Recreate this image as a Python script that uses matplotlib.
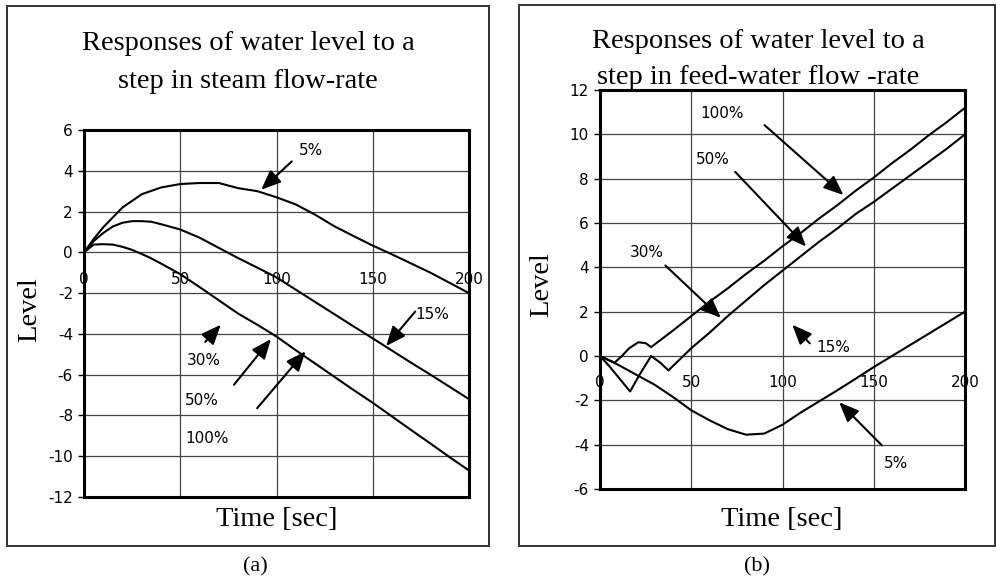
import matplotlib
matplotlib.use("Agg")
import matplotlib.pyplot as plt
from matplotlib.patches import Rectangle

# ---- panel (a): step in steam flow-rate ----
t_a5 = [0, 5, 10, 20, 30, 40, 50, 60, 70, 80, 90, 100, 110, 120, 130, 140, 150, 160, 170, 180, 190, 200]
lvl_a5 = [0, 0.65, 1.23, 2.2, 2.85, 3.18, 3.35, 3.4, 3.4, 3.15, 3.0, 2.7, 2.35, 1.85, 1.28, 0.8, 0.33,
          -0.1, -0.55, -1.0, -1.5, -2.0]
t_a15 = [0, 5, 10, 15, 20, 25, 30, 35, 40, 50, 60, 70, 80, 90, 100, 110, 120, 130, 140, 150, 160, 170, 180, 190, 200]
lvl_a15 = [0, 0.55, 0.95, 1.27, 1.45, 1.53, 1.53, 1.5, 1.38, 1.12, 0.72, 0.22, -0.28, -0.75, -1.23,
           -1.83, -2.43, -3.03, -3.63, -4.22, -4.82, -5.42, -6.0, -6.6, -7.2]
t_a30 = t_a15
lvl_a30 = [0, 0.38, 0.4, 0.38, 0.27, 0.12, -0.08, -0.3, -0.55, -1.07, -1.7, -2.35, -3.0, -3.55, -4.13,
           -4.8, -5.45, -6.1, -6.75, -7.38, -8.05, -8.72, -9.38, -10.05, -10.7]

# labels: (text, text_t, text_v, tail_t, tail_v, tip_t, tip_v)
notes_a = [("5%", 118, 5.0, 109, 4.55, 91, 2.98),
           ("15%", 181, -3.05, 173, -2.8, 156, -4.7),
           ("30%", 62, -5.3, 62, -4.5, 72, -3.45),
           ("50%", 61, -7.25, 77, -6.6, 98, -4.15),
           ("100%", 64, -9.15, 89, -7.75, 116, -4.75)]

# ---- panel (b): step in feed-water flow-rate ----
t_b5 = [0, 10, 20, 30, 40, 50, 60, 70, 80, 90, 100, 110, 120, 130, 140, 150, 160, 170, 180, 190, 200]
lvl_b5 = [0, -0.4, -0.85, -1.3, -1.85, -2.45, -2.9, -3.3, -3.55, -3.5, -3.1, -2.55, -2.05, -1.55,
          -1.03, -0.5, 0.0, 0.5, 1.0, 1.5, 2.0]
t_b100 = [0, 8, 12, 16, 21, 25, 28, 40, 50, 60, 70, 80, 90, 100, 110, 120, 130, 140, 150, 160, 170, 180, 190, 200]
lvl_b100 = [0, -0.3, 0, 0.35, 0.62, 0.58, 0.4, 1.15, 1.8, 2.45, 3.05, 3.7, 4.3, 4.95, 5.55, 6.2, 6.8,
            7.45, 8.05, 8.7, 9.3, 9.95, 10.55, 11.2]
t_b50 = [0, 5, 10, 16.5, 22, 28, 33, 37.5, 45, 50, 60, 70, 80, 90, 100, 110, 120, 130, 140, 150, 160, 170, 180, 190, 200]
lvl_b50 = [0, -0.45, -0.95, -1.6, -0.8, 0.0, -0.3, -0.65, -0.05, 0.35, 1.05, 1.8, 2.5, 3.2, 3.85, 4.5,
           5.15, 5.75, 6.4, 6.95, 7.55, 8.15, 8.75, 9.35, 10.0]

notes_b = [("100%", 67, 10.95, 89, 10.5, 134.5, 7.18),
           ("50%", 62, 8.87, 73, 8.4, 114, 4.85),
           ("30%", 25.6, 4.67, 34.7, 4.17, 67.3, 1.64),
           ("15%", 128, 0.4, 116, 0.48, 104.3, 1.5),
           ("5%", 162, -4.87, 155.5, -4.12, 130, -2.0)]

xticks = [0, 50, 100, 150, 200]
yticks_a = [6, 4, 2, 0, -2, -4, -6, -8, -10, -12]
yticks_b = [12, 10, 8, 6, 4, 2, 0, -2, -4, -6]

serif = "Liberation Serif"
small = ["Liberation Sans Narrow", "DejaVu Sans"]

fig = plt.figure(figsize=(9.96, 5.83), dpi=100)
W, H = 996, 583


def box(x0, y0, x1, y1):
    # pixel coords from top-left
    fig.patches.append(Rectangle((x0 / W, 1 - y1 / H), (x1 - x0) / W, (y1 - y0) / H,
                                 transform=fig.transFigure, fill=False, lw=1.4, ec="#333333"))


def label(x, y, s, **kw):
    fig.text(x / W, 1 - y / H, s, family=serif, ha="center", va="center", **kw)


def panel(rect, curves, notes, yticks, ylim):
    ax = fig.add_axes(rect)
    for t, v in curves:
        ax.plot(t, v, color="black", lw=1.5)
    ax.set_xlim(0, 200)
    ax.set_ylim(*ylim)
    ax.set_yticks(yticks)
    ax.set_yticklabels([str(y) for y in yticks], family=small, fontsize=11)
    ax.set_xticks([50, 100, 150])
    ax.tick_params(axis="x", length=0, labelbottom=False)
    ax.tick_params(axis="y", length=4, width=1, pad=4)
    ax.grid(True, color="#444444", lw=0.9)
    ax.set_axisbelow(True)
    for s in ax.spines.values():
        s.set_linewidth(2.2)
    # x labels sit just under the zero line (axis crossing)
    sec = ax.secondary_xaxis((0 - ylim[0]) / (ylim[1] - ylim[0]))
    sec.xaxis.set_ticks_position("bottom")
    sec.set_xticks(xticks)
    sec.set_xticklabels([str(x) for x in xticks], family=small, fontsize=11)
    sec.tick_params(length=0, pad=14)
    for s in sec.spines.values():
        s.set_visible(False)
    for lab, tx, ty, x0, y0, x1, y1 in notes:
        ax.text(tx, ty, lab, family=small, fontsize=11, ha="center", va="center")
        ax.annotate("", xy=(x1, y1), xytext=(x0, y0),
                    arrowprops=dict(arrowstyle="-|>,head_length=0.6,head_width=0.25",
                                    color="black", lw=1.5, mutation_scale=20))
    return ax


box(7, 6, 489, 546)
box(519, 5, 995, 546)

panel([84 / W, 1 - 497 / H, 385 / W, 367 / H],
      [(t_a5, lvl_a5), (t_a15, lvl_a15), (t_a30, lvl_a30)], notes_a, yticks_a, (-12, 6))
panel([600 / W, 1 - 489 / H, 365 / W, 399 / H],
      [(t_b5, lvl_b5), (t_b100, lvl_b100), (t_b50, lvl_b50)], notes_b, yticks_b, (-6, 12))

label(248, 44, "Responses of water level to a", fontsize=20.5)
label(248, 82, "step in steam flow-rate", fontsize=20.5)
label(758, 41, "Responses of water level to a", fontsize=20.5)
label(758, 77, "step in feed-water flow -rate", fontsize=20.5)

label(30, 310, "Level", fontsize=20.5, rotation=90)
label(542, 285, "Level", fontsize=20.5, rotation=90)
label(277, 519, "Time [sec]", fontsize=20.5)
label(782, 519, "Time [sec]", fontsize=20.5)
label(255, 567, "(a)", fontsize=16)
label(757, 567, "(b)", fontsize=16)

fig.savefig("out.png", dpi=100)
